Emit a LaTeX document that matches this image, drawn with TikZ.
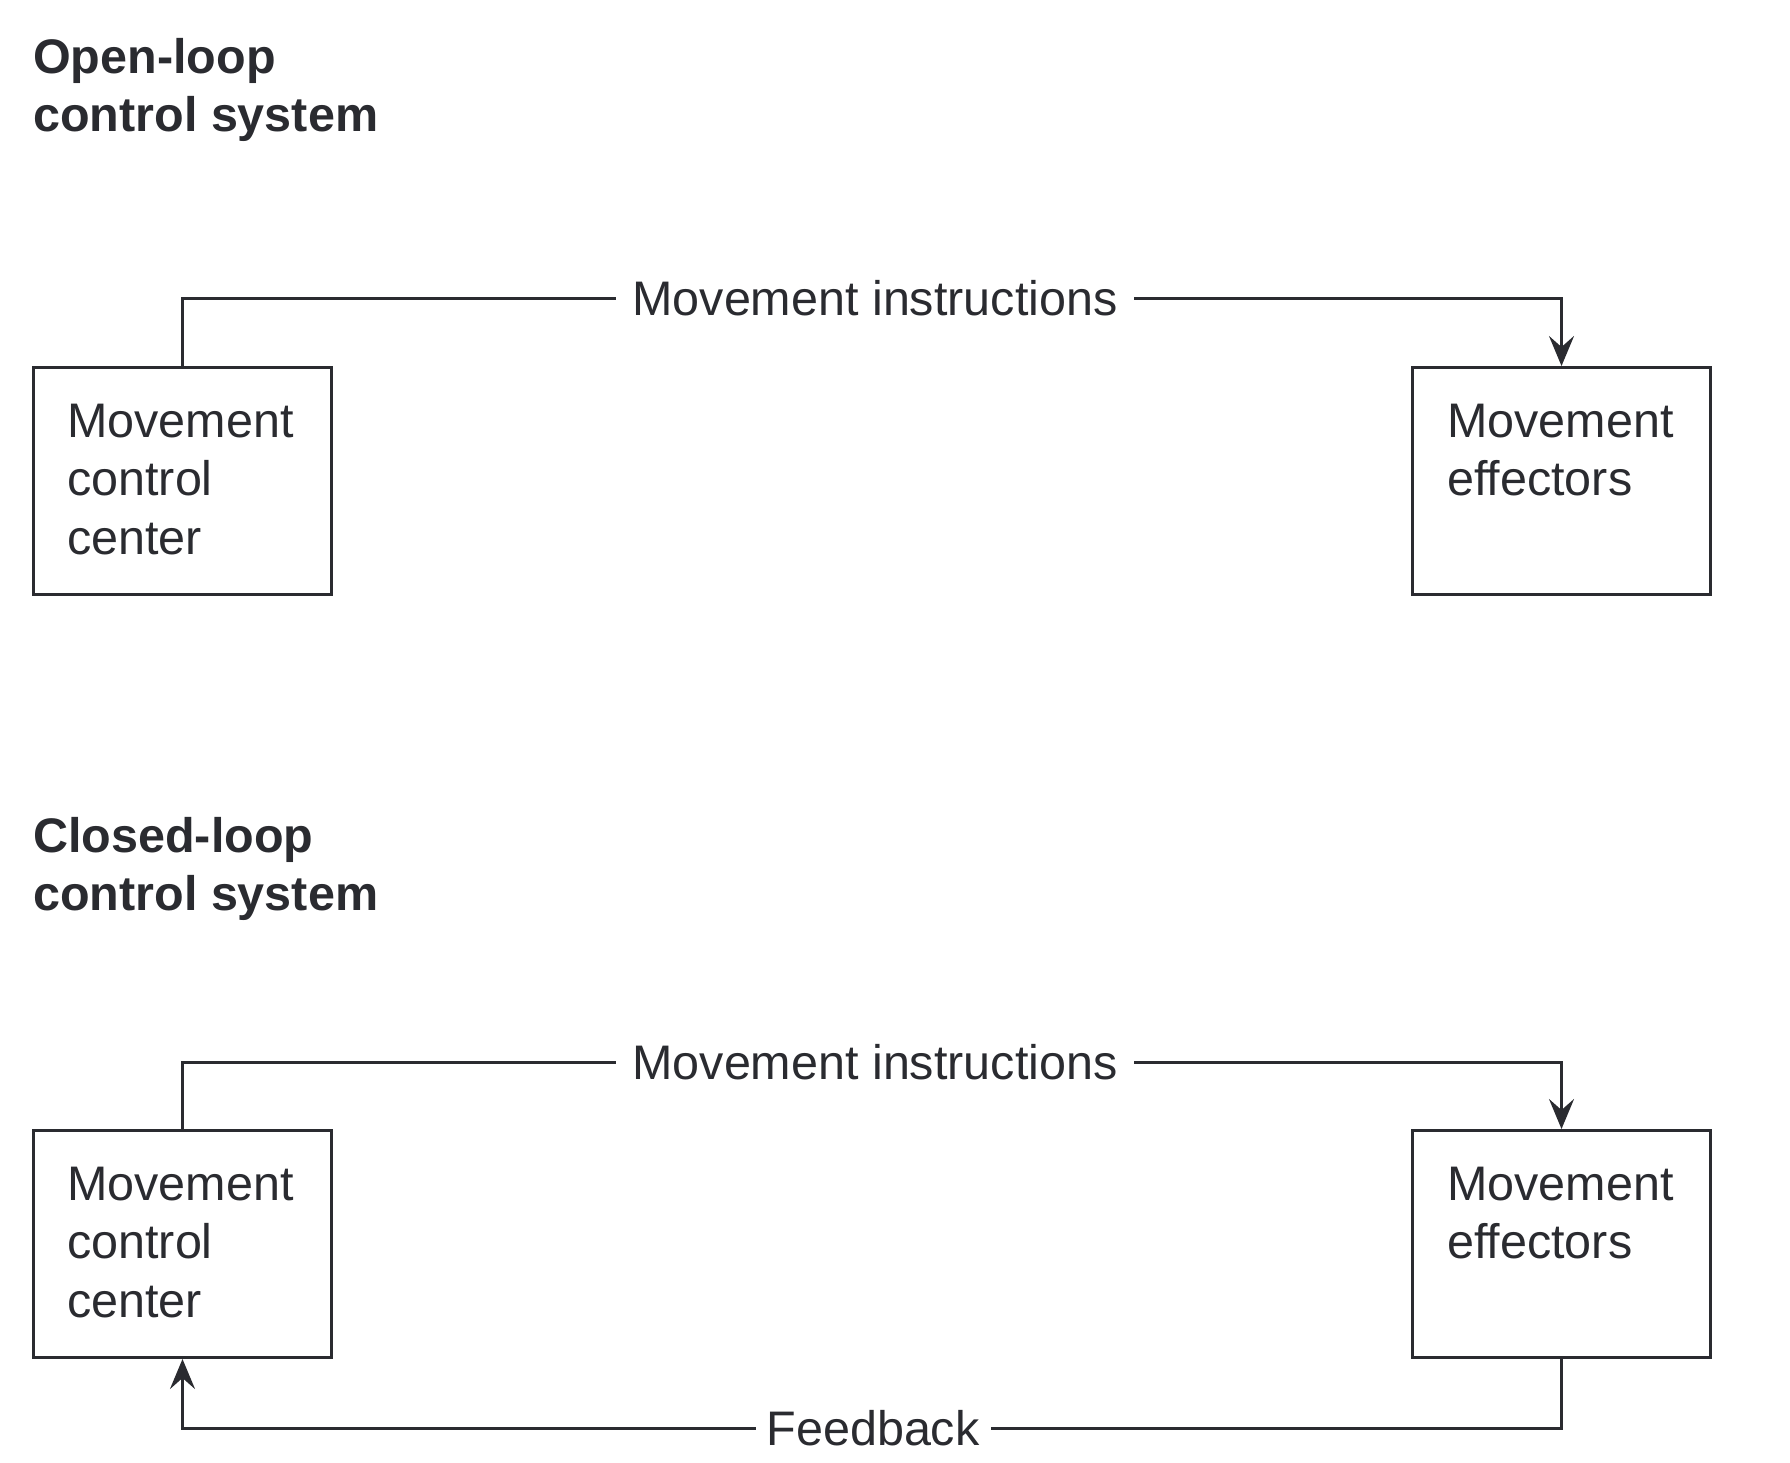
\documentclass[tikz,border=0pt]{standalone}
\usepackage{fontspec}
\setmainfont{Liberation Sans}
\usetikzlibrary{arrows.meta,calc}
\definecolor{ink}{RGB}{42,43,48}
\begin{document}
\begin{tikzpicture}[x=1pt,y=-1pt,
  every node/.style={text=ink},
  box/.style={draw=ink, line width=3pt, minimum width=298pt, minimum height=227pt, anchor=north west, inner sep=0pt},
  boxtext/.style={anchor=north west, inner sep=0pt, align=left, font=\fontsize{48.5}{58.5}\selectfont},
  title/.style={anchor=north west, inner sep=0pt, align=left, font=\fontsize{48.5}{58}\selectfont\bfseries},
  conn/.style={draw=ink, line width=3pt},
  tip/.style={-{Stealth[length=30pt,width=25pt,inset=11pt]}},
  lbl/.style={fill=white, inner ysep=0pt, inner xsep=16pt, font=\fontsize{48.5}{58}\selectfont}
]
\useasboundingbox (0,0) rectangle (1790,1462);
% Open-loop
\node[title] (t1) at (33,38) {Open-loop\\control system};
\node[box] (occ) at (32,366) {};
\node[box] (oeff) at (1411,366) {};
\node[boxtext] (occt) at (67,403.5) {Movement\\control\\center};
\node[boxtext] (oefft) at (1447,403.5) {Movement\\effectors};
\draw[conn,tip] (occ.north) -- ++(0,-68) -- node[lbl, xshift=3pt]{Movement instructions} ++(1379,0) -- (oeff.north);
% Closed-loop
\node[title] (t2) at (33,817) {Closed-loop\\control system};
\node[box] (ccc) at (32,1129) {};
\node[box] (ceff) at (1411,1129) {};
\node[boxtext] (ccct) at (67,1166.5) {Movement\\control\\center};
\node[boxtext] (cefft) at (1447,1166.5) {Movement\\effectors};
\draw[conn,tip] (ccc.north) -- ++(0,-67) -- node[lbl, xshift=3pt]{Movement instructions} ++(1379,0) -- (ceff.north);
\draw[conn,tip] (ceff.south) -- ++(0,69) -- node[lbl, inner xsep=11pt, xshift=1pt]{Feedback} ++(-1379,0) -- (ccc.south);
\end{tikzpicture}
\end{document}
